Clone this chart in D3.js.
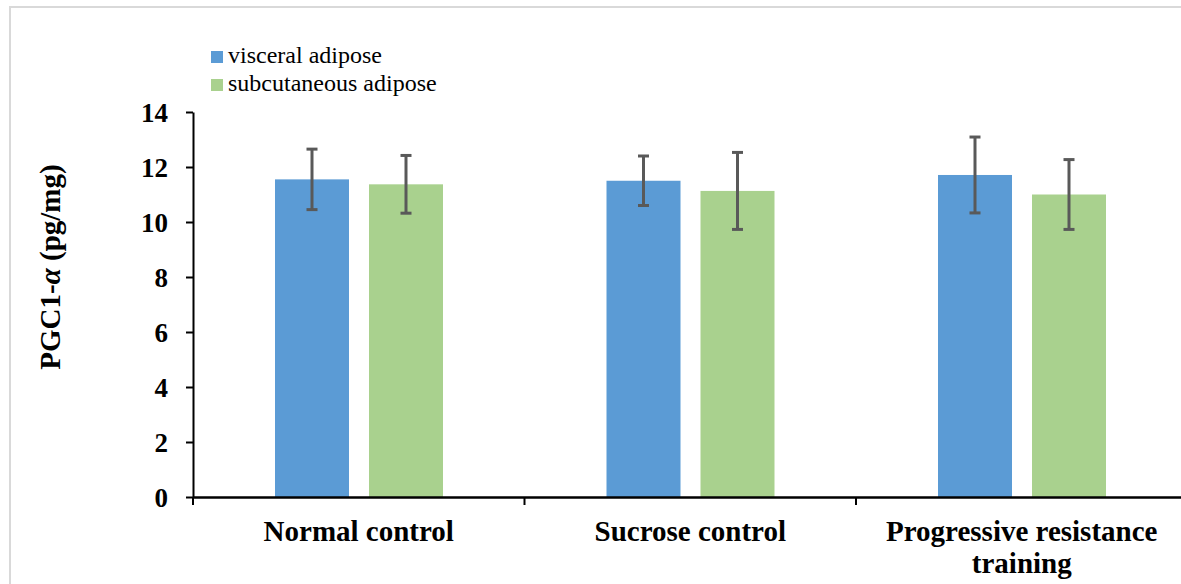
<!DOCTYPE html>
<html>
<head>
<meta charset="utf-8">
<script src="https://cdn.jsdelivr.net/npm/d3@7"></script>
<style>
  body { margin: 0; background: #fff; }
  text { font-family: "Liberation Serif", "Times New Roman", serif; fill: #000; }
</style>
</head>
<body>
<div class="chart"></div>
<script>
// PGC1-alpha by group and adipose depot
var groups = ['Normal control', 'Sucrose control', 'Progressive resistance training']
var groupLines = [['Normal control'], ['Sucrose control'], ['Progressive resistance', 'training']]
var series = ['visceral adipose', 'subcutaneous adipose']
var visceral = [11.55, 11.5, 11.71]
var subcutaneous = [11.37, 11.13, 11.0]
var visceralErr = [1.1, 0.9, 1.38]
var subcutaneousErr = [1.05, 1.4, 1.27]
var yTicks = [0, 2, 4, 6, 8, 10, 12, 14]
var colors = ['#5B9BD5', '#A9D18E']

var width = 1181
var height = 584

var svg = d3.select('.chart')
  .append('svg')
  .attr('width', width)
  .attr('height', height)

// chart area border (right and bottom fall outside the picture)
svg.append('rect')
  .attr('x', 10)
  .attr('y', 7)
  .attr('width', 1200)
  .attr('height', 600)
  .attr('fill', '#fff')
  .attr('stroke', '#d9d9d9')
  .attr('stroke-width', 2)

var x0 = d3.scaleBand()
  .domain(groups)
  .range([193, 193 + 3 * 331.5])

var x1 = d3.scaleBand()
  .domain(series)
  .range([82, 250])
  .paddingInner(20 / 94)

var y = d3.scaleLinear()
  .domain([0, 14])
  .range([497, 112])

var rows = groups.map((g, i) => ({
  group: g,
  values: [
    { key: series[0], v: visceral[i], e: visceralErr[i], c: colors[0] },
    { key: series[1], v: subcutaneous[i], e: subcutaneousErr[i], c: colors[1] }
  ]
}))

var groupG = svg.selectAll('g.group')
  .data(rows)
  .enter()
  .append('g')
  .attr('class', 'group')
  .attr('transform', d => 'translate(' + x0(d.group) + ',0)')

// bars
groupG.selectAll('rect')
  .data(d => d.values)
  .enter()
  .append('rect')
  .attr('x', d => x1(d.key))
  .attr('y', d => y(d.v))
  .attr('width', x1.bandwidth())
  .attr('height', d => y(0) - y(d.v))
  .attr('fill', d => d.c)

// error bars
var errG = groupG.selectAll('g.err')
  .data(d => d.values)
  .enter()
  .append('g')
  .attr('class', 'err')
  .attr('stroke', '#595959')
  .attr('stroke-width', 3)

errG.append('line')
  .attr('x1', d => x1(d.key) + x1.bandwidth() / 2)
  .attr('x2', d => x1(d.key) + x1.bandwidth() / 2)
  .attr('y1', d => y(d.v + d.e))
  .attr('y2', d => y(d.v - d.e))

errG.selectAll('line.cap')
  .data(d => [d, d].map((o, j) => ({ x: x1(o.key) + x1.bandwidth() / 2, yv: j ? o.v - o.e : o.v + o.e })))
  .enter()
  .append('line')
  .attr('class', 'cap')
  .attr('x1', d => d.x - 5.5)
  .attr('x2', d => d.x + 5.5)
  .attr('y1', d => y(d.yv))
  .attr('y2', d => y(d.yv))

// Y-axis
var yAxis = svg.append('g')
  .attr('transform', 'translate(193,0)')
  .call(d3.axisLeft(y).tickValues(yTicks).tickSize(7).tickSizeOuter(0))

yAxis.select('.domain').attr('stroke', '#000').attr('stroke-width', 2)
yAxis.selectAll('.tick line').attr('stroke', '#000').attr('stroke-width', 2)
yAxis.selectAll('.tick text')
  .attr('x', -25)
  .attr('dy', '0.34em')
  .style('font-family', '"Liberation Serif", serif')
  .style('font-size', '27px')
  .style('font-weight', 'bold')
  .attr('fill', '#000')

// X-axis
var xAxis = svg.append('g')
  .attr('transform', 'translate(0,' + y(0) + ')')
  .call(d3.axisBottom(x0).tickSize(0).tickSizeOuter(0).tickFormat(''))

xAxis.select('.domain').attr('stroke', '#000').attr('stroke-width', 2.5)

xAxis.selectAll('line.boundary')
  .data(groups)
  .enter()
  .append('line')
  .attr('class', 'boundary')
  .attr('x1', d => x0(d))
  .attr('x2', d => x0(d))
  .attr('y1', 0)
  .attr('y2', 8)
  .attr('stroke', '#000')
  .attr('stroke-width', 2)

groupLines.forEach((lines, i) => {
  var t = svg.append('text')
    .attr('x', x0(groups[i]) + x0.bandwidth() / 2)
    .attr('y', 541)
    .attr('text-anchor', 'middle')
    .style('font-size', '29px')
    .style('font-weight', 'bold')
  lines.forEach((l, j) => {
    t.append('tspan')
      .attr('x', x0(groups[i]) + x0.bandwidth() / 2)
      .attr('dy', j ? 32 : 0)
      .text(l)
  })
})

// Y-axis label
var yLabel = svg.append('text')
  .attr('transform', 'translate(60,267) rotate(-90)')
  .attr('text-anchor', 'middle')
  .style('font-size', '29px')
  .style('font-weight', 'bold')
yLabel.append('tspan').text('PGC1-')
yLabel.append('tspan').style('font-style', 'italic').text('α')
yLabel.append('tspan').text(' (pg/mg)')

// Legend
var legend = svg.selectAll('g.legend')
  .data(series)
  .enter()
  .append('g')
  .attr('class', 'legend')
  .attr('transform', (d, i) => 'translate(211,' + (51 + i * 28) + ')')

legend.append('rect')
  .attr('width', 12)
  .attr('height', 12)
  .attr('fill', (d, i) => colors[i])

legend.append('text')
  .attr('x', 17)
  .attr('y', 12)
  .style('font-size', '24px')
  .text(d => d)
</script>
</body>
</html>
